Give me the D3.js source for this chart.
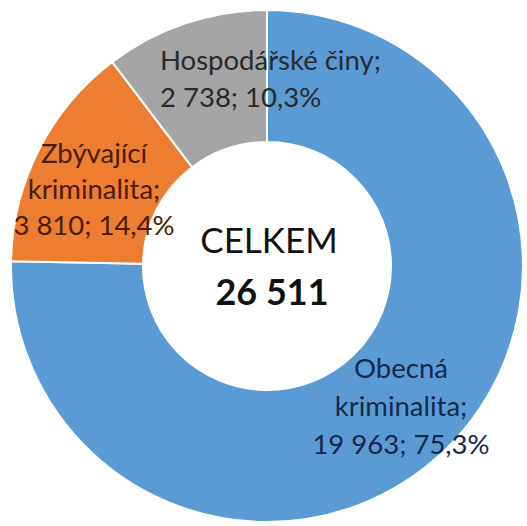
<!doctype html>
<html>
<head>
<meta charset="UTF-8">
<title>Kriminalita</title>
<script src="https://d3js.org/d3.v7.min.js"></script>
<style>
  body { margin: 0; background: #fff; }
  text { font-family: Lato, "Noto Sans", sans-serif; }
</style>
</head>
<body>
<svg id="chart" width="527" height="526"></svg>
<script>
// data
var categories = ["Obecná kriminalita", "Zbývající kriminalita", "Hospodářské činy"];
var values = [19963, 3810, 2738];
var percents = ["75,3%", "14,4%", "10,3%"];
var colors = ["#5B9BD5", "#ED7D31", "#A5A5A5"];
var textColors = ["#14284a", "#4a1c02", "#2a2a2a"];
var totalLabel = "CELKEM";

var svg = d3.select("#chart");
var cx = 267, cy = 266;
var outerR = 256, innerR = 124;
var fs = 27.5;

var pie = d3.pie().sort(null).value(function(d) { return d; });
var arc = d3.arc().innerRadius(innerR).outerRadius(outerR);

var g = svg.append("g").attr("transform", "translate(" + cx + "," + cy + ")");

g.selectAll("path")
    .data(pie(values))
    .enter().append("path")
    .attr("d", arc)
    .attr("fill", function(d, i) { return colors[i]; })
    .attr("stroke", "#fff")
    .attr("stroke-width", 2);

function fmt(n) {
    return d3.format(",")(n).replace(/,/g, " ");
}

// label lines, hand placed like the Excel original
var labelLines = [
    ["Obecná", "kriminalita;", fmt(values[0]) + "; " + percents[0]],
    ["Zbývající", "kriminalita;", fmt(values[1]) + "; " + percents[1]],
    ["Hospodářské činy;", fmt(values[2]) + "; " + percents[2]]
];
var labelPos = [
    {x: 401, y: 378, anchor: "middle", step: 38},
    {x: 94, y: 163, anchor: "middle", step: 36},
    {x: 160, y: 70, anchor: "start", step: 37}
];

labelLines.forEach(function(lines, i) {
    var p = labelPos[i];
    var t = svg.append("text")
        .attr("text-anchor", p.anchor)
        .attr("fill", textColors[i])
        .attr("font-size", fs);
    lines.forEach(function(s, j) {
        t.append("tspan").attr("x", p.x).attr("y", p.y + j * p.step).text(s);
    });
});

var total = d3.sum(values);
svg.append("text")
    .attr("x", 269).attr("y", 253)
    .attr("text-anchor", "middle")
    .attr("font-size", 35)
    .attr("fill", "#111")
    .text(totalLabel);
svg.append("text")
    .attr("x", 272).attr("y", 305)
    .attr("text-anchor", "middle")
    .attr("font-size", 36)
    .attr("font-weight", "bold")
    .attr("fill", "#111")
    .text(fmt(total));
</script>
</body>
</html>
